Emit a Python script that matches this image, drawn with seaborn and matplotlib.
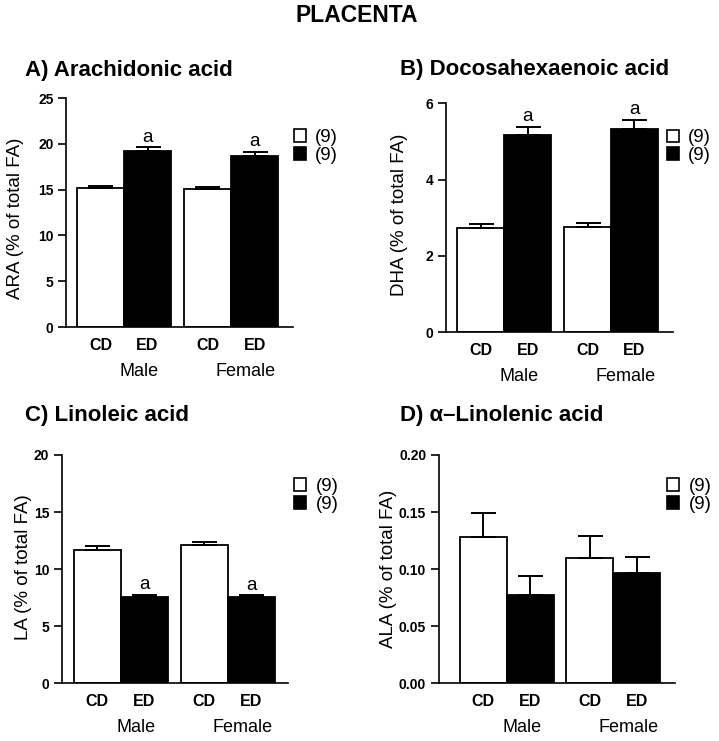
import matplotlib
matplotlib.use("Agg")
import matplotlib.pyplot as plt
import seaborn as sns
import pandas as pd
from matplotlib.patches import Patch
from matplotlib.ticker import FormatStrFormatter

# ---------------- data ----------------
sex = ["Male", "Male", "Female", "Female"]
diet = ["CD", "ED", "CD", "ED"]

ara_mean = [15.2, 19.2, 15.1, 18.7]
ara_sem = [0.2, 0.4, 0.2, 0.4]
dha_mean = [2.72, 5.16, 2.77, 5.33]
dha_sem = [0.12, 0.22, 0.09, 0.24]
la_mean = [11.7, 7.6, 12.1, 7.6]
la_sem = [0.3, 0.15, 0.3, 0.12]
ala_mean = [0.128, 0.077, 0.110, 0.097]
ala_sem = [0.021, 0.017, 0.019, 0.014]

sig_abc = ["", "a", "", "a"]
sig_d = ["", "", "", ""]
legend_labels = ["(9)", "(9)"]
sex_order = ["Male", "Female"]
diet_order = ["CD", "ED"]

ara_ticks = [0, 5, 10, 15, 20, 25]
dha_ticks = [0, 2, 4, 6]
la_ticks = [0, 5, 10, 15, 20]
ala_ticks = [0.00, 0.05, 0.10, 0.15, 0.20]

# ---------------- style ----------------
sns.set_style("ticks")
plt.rcParams["font.family"] = ["Liberation Sans", "DejaVu Sans"]
plt.rcParams["axes.linewidth"] = 1.2
for k in ("text.color", "axes.labelcolor", "xtick.color", "ytick.color", "axes.edgecolor"):
    plt.rcParams[k] = "black"

W, H = 719, 741
fig = plt.figure(figsize=(W / 100, H / 100), dpi=100)


def px_axes(left, top, right, bottom):
    return fig.add_axes([left / W, 1 - bottom / H, (right - left) / W, (bottom - top) / H])


panels = [
    dict(rect=(66, 98, 293, 327), mean=ara_mean, sem=ara_sem, sig=sig_abc,
         ylim=(0, 25), ticks=ara_ticks, fmt="%d", ylabel="ARA (% of total FA)",
         xlim=(-0.542, 1.579), lab=(-0.185, 0.476), leg=(1.004, 0.788)),
    dict(rect=(446, 103.3, 673, 332.3), mean=dha_mean, sem=dha_sem, sig=sig_abc,
         ylim=(0, 6), ticks=dha_ticks, fmt="%d", ylabel="DHA (% of total FA)",
         xlim=(-0.546, 1.581), lab=(-0.167, 0.512), leg=(0.972, 0.810)),
    dict(rect=(61.7, 455, 288, 683.3), mean=la_mean, sem=la_sem, sig=sig_abc,
         ylim=(0, 20), ticks=la_ticks, fmt="%d", ylabel="LA (% of total FA)",
         xlim=(-0.551, 1.563), lab=(-0.131, 0.51), leg=(1.027, 0.822)),
    dict(rect=(438.7, 455, 675, 683.3), mean=ala_mean, sem=ala_sem, sig=sig_d,
         ylim=(0, 0.2), ticks=ala_ticks, fmt="%.2f", ylabel="ALA (% of total FA)",
         xlim=(-0.638, 1.579), lab=(-0.176, 0.503), leg=(0.967, 0.822)),
]

for p in panels:
    ax = px_axes(*p["rect"])
    df = pd.DataFrame({"sex": sex, "diet": diet, "value": p["mean"]})
    sns.barplot(data=df, x="sex", y="value", hue="diet", order=sex_order,
                hue_order=diet_order, palette={"CD": "white", "ED": "black"},
                edgecolor="black", linewidth=1.3, width=0.88, errorbar=None,
                legend=False, ax=ax)
    bars = sorted(ax.patches, key=lambda r: r.get_x())
    xs = [b.get_x() + b.get_width() / 2 for b in bars]
    hs = [b.get_height() for b in bars]
    ax.errorbar(xs, hs, yerr=[[0] * len(hs), p["sem"]], fmt="none",
                ecolor="black", elinewidth=1.4, capsize=9, capthick=1.4, zorder=5)
    for x, h, s, lbl in zip(xs, hs, p["sem"], p["sig"]):
        if lbl:
            ax.annotate(lbl, (x, h + s), xytext=(0, 4), textcoords="offset points",
                        ha="center", va="baseline", fontsize=13.5)

    ax.set_xlim(*p["xlim"])
    ax.set_ylim(*p["ylim"])
    ax.set_yticks(p["ticks"])
    ax.yaxis.set_major_formatter(FormatStrFormatter(p["fmt"]))
    for t in ax.get_yticklabels():
        t.set_fontweight("bold")
        t.set_fontsize(10)
    ax.tick_params(axis="y", length=6, width=1.2, pad=3, colors="black")

    ax.set_xticks(xs)
    ax.set_xticklabels(diet, fontsize=11.5, fontweight="bold")
    ax.tick_params(axis="x", length=0, pad=8, colors="black")

    ax.set_xlabel("")
    ax.set_ylabel(p["ylabel"], fontsize=13.5, color="black")
    ax.yaxis.set_label_coords(*p["lab"])

    for gi, g in enumerate(sex_order):
        gx = (xs[2 * gi] + xs[2 * gi + 1]) / 2 + 0.14
        ax.annotate(g, (gx, 0), xycoords=("data", "axes fraction"),
                    xytext=(0, -32), textcoords="offset points",
                    ha="center", va="center", fontsize=13, annotation_clip=False)

    sns.despine(ax=ax)
    for sp in ("left", "bottom"):
        ax.spines[sp].set_linewidth(1.2)
        ax.spines[sp].set_color("black")

    handles = [Patch(facecolor="white", edgecolor="black", linewidth=1.2),
               Patch(facecolor="black", edgecolor="black", linewidth=1.2)]
    ax.legend(handles=handles, labels=legend_labels, loc="center left",
              bbox_to_anchor=p["leg"], frameon=False, borderpad=0,
              borderaxespad=0, handlelength=0.64, handleheight=0.64,
              handletextpad=0.5, labelspacing=0.05, fontsize=13.5)

fig.text(357 / W, 1 - 22.3 / H, "PLACENTA", ha="center", va="baseline",
         fontsize=16.5, fontweight="bold")
fig.text(25 / W, 1 - 75.7 / H, "A) Arachidonic acid", ha="left", va="baseline",
         fontsize=16, fontweight="bold")
fig.text(400 / W, 1 - 75 / H, "B) Docosahexaenoic acid", ha="left", va="baseline",
         fontsize=16, fontweight="bold")
fig.text(25 / W, 1 - 421 / H, "C) Linoleic acid", ha="left", va="baseline",
         fontsize=16, fontweight="bold")
fig.text(400 / W, 1 - 421 / H, "D) α–Linolenic acid", ha="left", va="baseline",
         fontsize=16, fontweight="bold")

fig.savefig("out.png", dpi=100)
